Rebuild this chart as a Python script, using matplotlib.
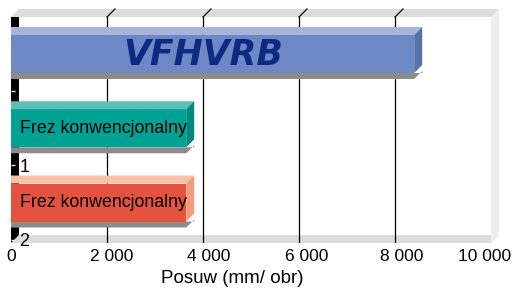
import matplotlib
matplotlib.use('Agg')
import matplotlib.pyplot as plt
import matplotlib.transforms as mtransforms
from matplotlib.patches import Polygon
from matplotlib.lines import Line2D

plt.rcParams['font.family'] = ['Liberation Sans', 'DejaVu Sans']

# data
values = [8400, 3650, 3650]
bar_text = ['VFHVRB', 'Frez konwencjonalny', 'Frez konwencjonalny']
cat_labels = ['', '1', '2']
xticks = [0, 2000, 4000, 6000, 8000, 10000]
xtick_labels = ['0', '2 000', '4 000', '6 000', '8 000', '10 000']
xlabel = 'Posuw (mm/ obr)'

front_colors = ['#6d89c5', '#00a294', '#e3533f']
top_colors = ['#a8b3dc', '#5dbfb7', '#f7c2a6']
side_colors = ['#5a6fa9', '#008a7f', '#f29c7c']

W, H = 515, 289
D = 8  # depth of the 3d effect, px
fig = plt.figure(figsize=(W / 100, H / 100), dpi=100)
ax = fig.add_axes([11 / W, (H - 243) / H, 480 / W, 226 / H])
ax.set_xlim(0, 10000)
ax.set_ylim(2.545, -0.498)
for s in ax.spines.values():
    s.set_visible(False)

ident = mtransforms.IdentityTransform()


def px(x, y):
    return ax.transData.transform((x, y))


def poly(pts, color, z):
    p = Polygon(pts, closed=True, facecolor=color, edgecolor='none',
                transform=ident, zorder=z, clip_on=False)
    ax.add_patch(p)


# walls
x0, yb0 = px(0, 2.545)
x1, yt0 = px(10000, -0.498)
poly([(x0, yt0), (x0 + D, yt0 + D), (x1 + D, yt0 + D), (x1, yt0)], '#dcdcdc', 0.3)
poly([(x0, yb0), (x0 + D, yb0 + D), (x1 + D, yb0 + D), (x1, yb0)], '#dcdcdc', 0.3)
poly([(x1, yt0), (x1 + D, yt0 + D), (x1 + D, yb0 + D), (x1, yb0)], '#ededed', 0.3)
poly([(x0, yt0), (x0 + D, yt0), (x0 + D, yb0 + D), (x0, yb0)], 'black', 0.8)

# gridlines
for v in xticks[1:-1]:
    ax.axvline(v, color='black', lw=0.9, zorder=0.6)
    gx = px(v, 0)[0]
    ax.add_line(Line2D([gx, gx + D], [yt0, yt0 + D], color='black', lw=0.9,
                       transform=ident, zorder=0.6, clip_on=False))

# bars
h = 0.512
ypos = list(range(len(values)))
ax.barh(ypos, values, height=h, color=front_colors, zorder=2)
for i, v in enumerate(values):
    xa, yt = px(0, i - h / 2)
    xe, yb = px(v, i + h / 2)
    poly([(xa, yb), (xa, yb - 6), (xe, yb - 6), (xe + D, yb + 2), (xe + D, yb)], '#8c8c8c', 1.5)
    poly([(xa, yt), (xa, yt + D), (xe + D, yt + D), (xe, yt)], top_colors[i], 2)
    poly([(xe, yt), (xe + D, yt + D), (xe + D, yb + D), (xe, yb)], side_colors[i], 2)

ax.text(4000, 0.15, bar_text[0], ha='center', va='baseline', fontsize=25,
        fontweight='heavy', fontstyle='italic', color='#0c2a82',
        family='DejaVu Sans', zorder=3)
for i in (1, 2):
    ax.text(190, i, bar_text[i], ha='left', va='center', fontsize=12.8,
            color='black', zorder=3)

# axes ticks
ax.set_yticks([0.5, 1.5, 2.5], cat_labels)
ax.tick_params(axis='y', direction='in', length=3, color='#e6e6e6', width=1,
               pad=-6, labelsize=13)
for lbl in ax.get_yticklabels():
    lbl.set_horizontalalignment('left')

ax.set_xticks(xticks, xtick_labels)
ax.tick_params(axis='x', length=0, pad=4, labelsize=12.5)
offsets = [0, 5, 6, 8, 7, -6]
for lbl, dx in zip(ax.get_xticklabels(), offsets):
    lbl.set_transform(lbl.get_transform() +
                      mtransforms.ScaledTranslation(dx / 100, 0, fig.dpi_scale_trans))

ax.set_xlabel(xlabel, fontsize=13.5)
ax.xaxis.set_label_coords(0.46, -0.12)

fig.savefig('out.png', dpi=100)
